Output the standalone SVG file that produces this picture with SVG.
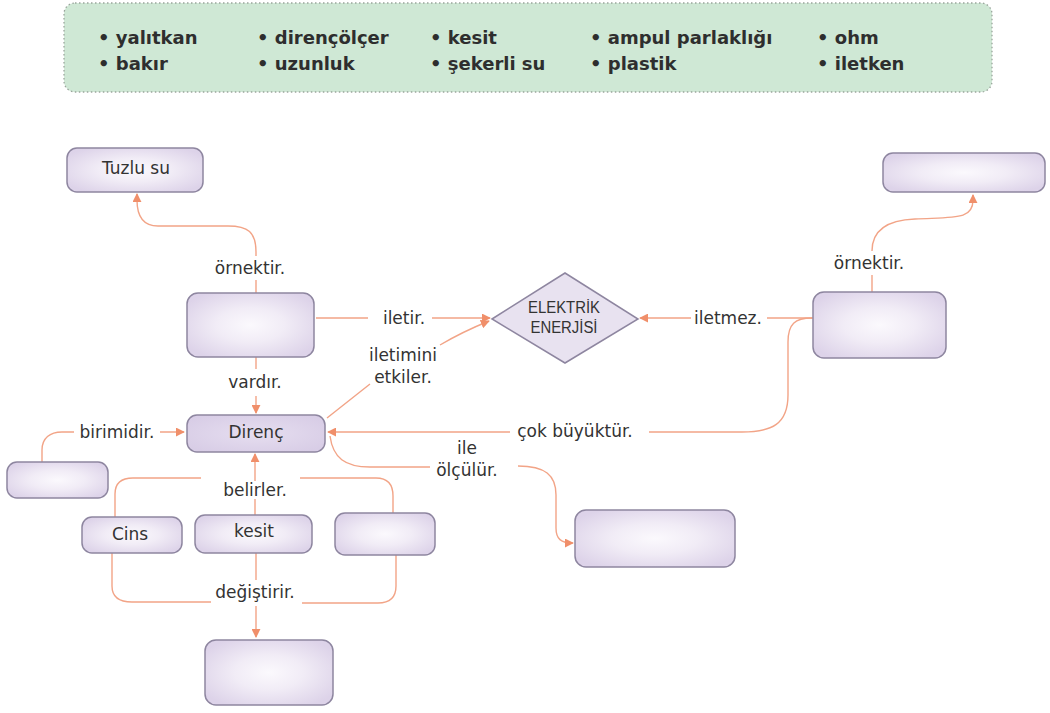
<svg xmlns="http://www.w3.org/2000/svg" width="1050" height="713" viewBox="0 0 1050 713">
<defs>
<radialGradient id="ng" cx="50%" cy="50%" r="60%">
<stop offset="0" stop-color="#fbf9fd"/>
<stop offset="0.45" stop-color="#f1ecf6"/>
<stop offset="1" stop-color="#ddd3e9"/>
</radialGradient>
<radialGradient id="dg" cx="50%" cy="50%" r="60%">
<stop offset="0" stop-color="#e6def0"/>
<stop offset="1" stop-color="#d8cde6"/>
</radialGradient>
<marker id="ah" viewBox="0 0 10 10" refX="9" refY="5" markerWidth="9" markerHeight="9" markerUnits="userSpaceOnUse" orient="auto">
<path d="M0,0 L10,5 L0,10 Z" fill="#f08f6a"/>
</marker>
<style>
.node{fill:url(#ng);stroke:#8e86a0;stroke-width:1.5}
.dir{fill:url(#dg);stroke:#8e86a0;stroke-width:1.5}
.lbl{font-family:"DejaVu Sans","Liberation Sans",sans-serif;font-size:17px;fill:#333;text-anchor:middle;dominant-baseline:central}
.item{font-family:"DejaVu Sans","Liberation Sans",sans-serif;font-size:18px;font-weight:bold;fill:#2e2e2e}
.con{fill:none;stroke:#f2a487;stroke-width:1.4}
.arr{marker-end:url(#ah)}
.dtx{font-family:"Liberation Sans",sans-serif;font-size:16px;fill:#333;text-anchor:middle}
</style>
</defs>
<rect width="1050" height="713" fill="#ffffff"/>

<g id="wordbank">
<rect x="64" y="3" width="928" height="89" rx="11" fill="#cfe8d5" stroke="#9aa59c" stroke-width="1.3" stroke-dasharray="1.5 2.5"/>
<text class="item" x="98" y="44">• yalıtkan</text>
<text class="item" x="98" y="70">• bakır</text>
<text class="item" x="257" y="44">• dirençölçer</text>
<text class="item" x="257" y="70">• uzunluk</text>
<text class="item" x="430" y="44">• kesit</text>
<text class="item" x="430" y="70">• şekerli su</text>
<text class="item" x="590" y="44">• ampul parlaklığı</text>
<text class="item" x="590" y="70">• plastik</text>
<text class="item" x="817" y="44">• ohm</text>
<text class="item" x="817" y="70">• iletken</text>
</g>

<g id="connectors">
<path class="con arr" d="M256,293 V280 M256,256 V252 C256,232 248,226 228,226 H158 C142,226 137,215 137,200 V194"/>
<path class="con arr" d="M316,318 H368 M432,318 H490"/>
<path class="con arr" d="M327,418 L370,384 M440,345 Q462,332 489,321"/>
<path class="con arr" d="M813,318 H767 M691,318 H640"/>
<path class="con arr" d="M872,292 V275 M872,251 C872,228 890,220 915,219 C955,217 973,220 973,200 V195"/>
<path class="con arr" d="M812,318 C795,318 788,324 788,342 V395 C788,424 772,432 742,432 H649 M510,432 H328"/>
<path class="con arr" d="M330,436 C333,458 345,467 370,467 H430 M518,466 C545,466 556,475 556,495 V528 C556,539 561,543 573,543"/>
<path class="con arr" d="M256,357 V369 M256,396 V413"/>
<path class="con arr" d="M42,462 V450 C42,438 50,432 62,432 H74 M160,432 H184"/>
<path class="con" d="M115,517 V494 C115,483 121,478 133,478 H201 M300,478 H376 C388,478 393,484 393,496 V513"/>
<path class="con arr" d="M255,515 V499 M255,481 V454"/>
<path class="con" d="M112,553 V586 C112,597 119,602 132,602 H211 M302,603 H378 C390,603 396,597 396,586 V555"/>
<path class="con arr" d="M256,553 V580 M256,606 V637"/>
</g>

<g id="labels">
<text class="lbl" x="250" y="268">örnektir.</text>
<text class="lbl" x="404" y="318">iletir.</text>
<text class="lbl" x="403" y="355">iletimini</text>
<text class="lbl" x="403" y="377">etkiler.</text>
<text class="lbl" x="728" y="318">iletmez.</text>
<text class="lbl" x="869" y="263">örnektir.</text>
<text class="lbl" x="575" y="431">çok büyüktür.</text>
<text class="lbl" x="467" y="448">ile</text>
<text class="lbl" x="467" y="470">ölçülür.</text>
<text class="lbl" x="255" y="382">vardır.</text>
<text class="lbl" x="117" y="432">birimidir.</text>
<text class="lbl" x="255" y="490">belirler.</text>
<text class="lbl" x="255" y="592">değiştirir.</text>
</g>

<g id="tuzlu"><rect class="node" x="67" y="148" width="136" height="44" rx="10"/><text class="lbl" x="136" y="168">Tuzlu su</text></g>
<g id="box1"><rect class="node" x="187" y="293" width="127" height="64" rx="11"/></g>
<g id="elektrik">
<polygon points="492,319 565,273 638,319 565,363" fill="#e8e2f0" stroke="#8e86a0" stroke-width="1.5"/>
<text class="dtx" x="564" y="313" textLength="72" lengthAdjust="spacingAndGlyphs">ELEKTRİK</text>
<text class="dtx" x="564" y="333" textLength="67" lengthAdjust="spacingAndGlyphs">ENERJİSİ</text>
</g>
<g id="rightbox"><rect class="node" x="813" y="292" width="133" height="66" rx="11"/></g>
<g id="toprightbox"><rect class="node" x="883" y="153" width="162" height="39" rx="10"/></g>
<g id="direnc"><rect class="dir" x="187" y="415" width="138" height="37" rx="10"/><text class="lbl" x="256" y="432">Direnç</text></g>
<g id="leftbox"><rect class="node" x="7" y="462" width="101" height="36" rx="10"/></g>
<g id="cins"><rect class="node" x="82" y="517" width="100" height="36" rx="10"/><text class="lbl" x="130" y="534">Cins</text></g>
<g id="kesit"><rect class="node" x="195" y="515" width="117" height="38" rx="10"/><text class="lbl" x="254" y="531">kesit</text></g>
<g id="rightsmall"><rect class="node" x="335" y="513" width="100" height="42" rx="10"/></g>
<g id="bottombox"><rect class="node" x="205" y="640" width="128" height="65" rx="11"/></g>
<g id="olcumbox"><rect class="node" x="575" y="510" width="160" height="57" rx="11"/></g>
</svg>
